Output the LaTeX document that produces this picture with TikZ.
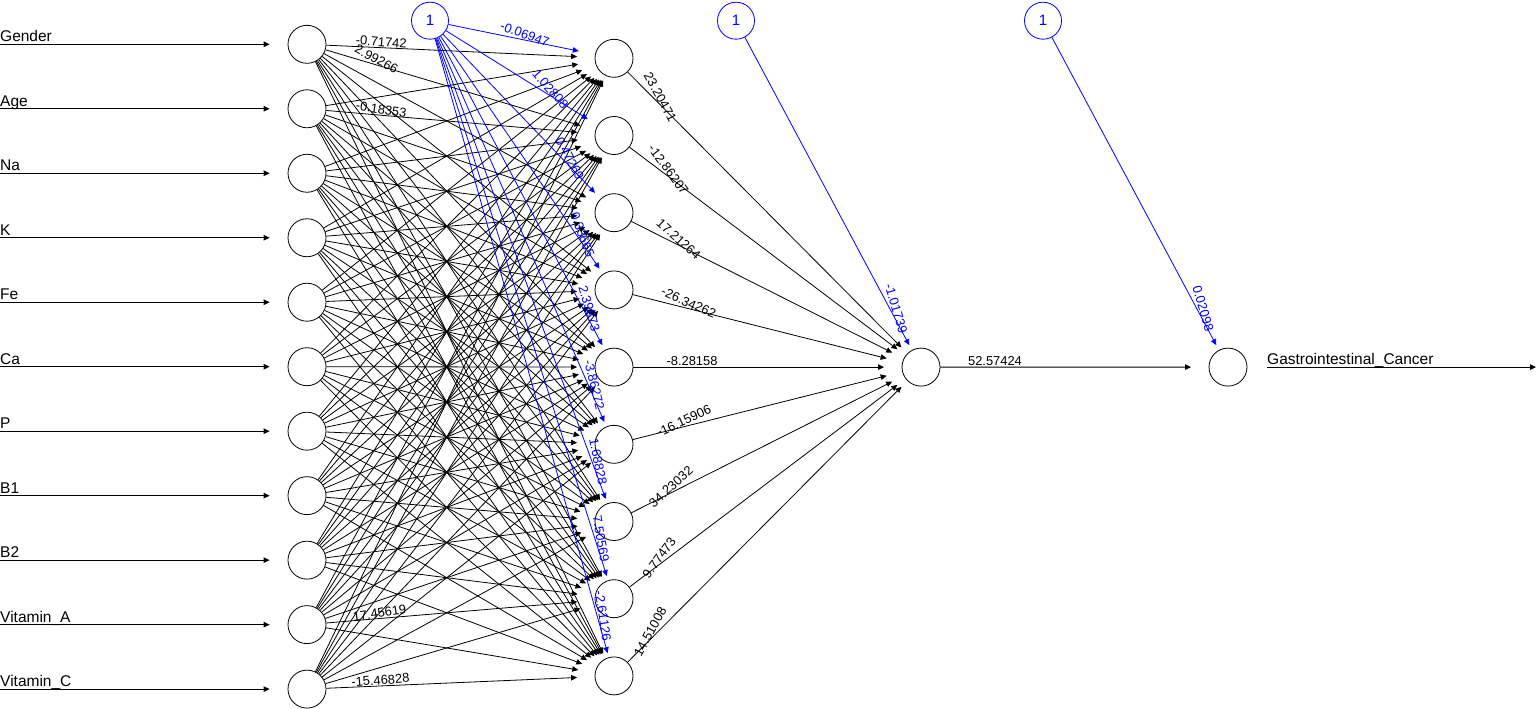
\documentclass[tikz,border=0pt]{standalone}
\usepackage{fontspec}
\setmainfont{Liberation Sans}
\usetikzlibrary{calc,arrows.meta}
\newdimen\nnAx \newdimen\nnAy \newdimen\nnBx \newdimen\nnBy
\def\nnC{1.6}
\def\nnR{1.8}
\newcommand\nnprep[2]{%
  \pgfextractx{\nnAx}{\pgfpointanchor{#1}{center}}%
  \pgfextracty{\nnAy}{\pgfpointanchor{#1}{center}}%
  \pgfextractx{\nnBx}{\pgfpointanchor{#2}{center}}%
  \pgfextracty{\nnBy}{\pgfpointanchor{#2}{center}}%
  \pgfmathsetmacro\nnDx{\nnBx-\nnAx}%
  \pgfmathsetmacro\nnDy{\nnBy-\nnAy}%
  \pgfmathsetmacro\nnN{100*veclen(\nnDx/100,\nnC*\nnDy/100)}%
  \pgfmathsetmacro\nnRot{atan2(\nnR*\nnDy,\nnDx)}%
}
\newcommand\nnline[3][]{%
  \nnprep{#2}{#3}%
  \pgfmathsetmacro\nnT{37/\nnN}%
  \draw[edge,#1] (#2) -- ($(#3)!\nnT!(#2)$);%
}
\newcommand\nnlab[5][]{%
  \nnprep{#2}{#3}%
  \pgfmathsetmacro\nnT{#4}%
  \node[wlab,#1,rotate=\nnRot] at ($(#2)!\nnT!(#3)$) {#5};%
}
\begin{document}
\begin{tikzpicture}[x=1pt,y=-1pt,
  neuron/.style={circle,draw,line width=0.8pt,minimum size=38pt,inner sep=0pt},
  biasn/.style={circle,draw=blue,text=blue,line width=0.8pt,minimum size=37pt,inner sep=0pt,font=\fontsize{15}{18}\selectfont},
  edge/.style={line width=0.8pt,-{Triangle[length=6pt,width=5.5pt]}},
  wlab/.style={anchor=south,inner sep=1pt,font=\fontsize{12.9}{15}\selectfont},
  namelab/.style={anchor=base west,inner sep=0pt,font=\fontsize{15.5}{18}\selectfont}]
\useasboundingbox (0,0) rectangle (1536,709);
% input layer
\foreach \k/\lbl in {1/Gender,2/Age,3/Na,4/K,5/Fe,6/Ca,7/P,8/B1,9/B2,10/Vitamin\_A,11/Vitamin\_C}{
  \pgfmathsetmacro\yy{44.3+64.48*(\k-1)}
  \node[neuron] (i\k) at (307,\yy) {};
  \coordinate (ia\k) at (0,\yy);
  \node[namelab] (n\k) at (0,\yy-2.5) {\lbl};
  \draw[edge,shorten >=18pt] (ia\k) -- (i\k);
}
% hidden layer
\foreach \k in {1,...,9}{
  \pgfmathsetmacro\yy{58.3+77.2*(\k-1)}
  \node[neuron] (h\k) at (614,\yy) {};
}
\node[neuron] (o) at (921,367.1) {};
\node[neuron] (f) at (1228,367.1) {};
\node[biasn] (b1) at (430,20.7) {1};
\node[biasn] (b2) at (736,20.7) {1};
\node[biasn] (b3) at (1043,20.7) {1};
% connectors
\foreach \i in {1,...,11}{\foreach \j in {1,...,9}{\nnline{i\i}{h\j}}}
\foreach \j in {1,...,9}{\nnline[blue]{b1}{h\j}\nnline{h\j}{o}}
\nnline[blue]{b2}{o}
\nnline{o}{f}
\nnline[blue]{b3}{f}
\coordinate (oe) at (1536,367.1);
\draw[edge,shorten <=20pt] (f) -- (oe);
\node[namelab] (outname) at (1267,364.5) {Gastrointestinal\_Cancer};
% labels
\foreach \j/\w in {1/-0.06947,2/1.02808,3/0.47269,4/-0.33665,5/2.39873,6/-3.86272,7/1.68828,8/7.50569,9/-2.61126}{
  \nnlab[blue]{b1}{h\j}{1-96/\nnN}{\w}}
\foreach \j/\w in {1/23.20471,2/-12.86207,3/17.21264,4/-26.34262,5/-8.28158,6/-16.15906,7/34.23032,8/9.77473,9/14.51008}{
  \nnlab{h\j}{o}{78/\nnN}{\w}}
\nnlab{o}{f}{74/\nnN}{52.57424}
\nnlab[blue]{b2}{o}{1-96/\nnN}{-1.01739}
\nnlab[blue]{b3}{f}{1-96/\nnN}{0.02098}
\nnlab{i1}{h1}{74/\nnN}{-0.71742}
\nnlab{i1}{h2}{74/\nnN}{2.99266}
\nnlab{i2}{h2}{74/\nnN}{-0.18353}
\nnlab{i10}{h8}{74/\nnN}{17.45619}
\nnlab{i11}{h9}{74/\nnN}{-15.46828}
\end{tikzpicture}
\end{document}
